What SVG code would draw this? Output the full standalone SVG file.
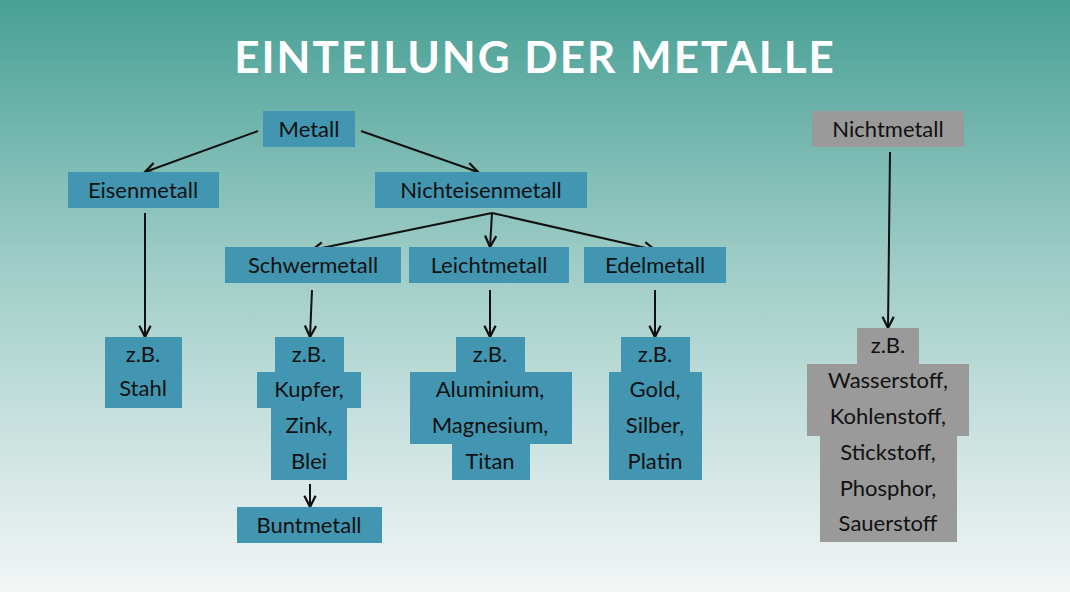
<svg xmlns="http://www.w3.org/2000/svg" width="1070" height="592" viewBox="0 0 1070 592">
<defs>
<linearGradient id="bg" x1="0" y1="0" x2="0" y2="1">
<stop offset="0" stop-color="#48a096"/><stop offset="0.45" stop-color="#9fcdc7"/><stop offset="1" stop-color="#f3f6f6"/>
</linearGradient>
<marker id="ah" viewBox="0 0 10 10" refX="9" refY="5" markerWidth="7" markerHeight="7" orient="auto"><path d="M1,1 L9,5 L1,9" fill="none" stroke="#111" stroke-width="1.6"/></marker>
<style>
.b{fill:#4296b1}.g{fill:#9a9a9a}
text{font-family:Lato,"Open Sans",sans-serif;font-size:22px;fill:#111;text-anchor:middle}
.c line{stroke:#111;stroke-width:2;marker-end:url(#ah)}
</style>
</defs>
<rect width="1070" height="592" fill="url(#bg)"/>
<text x="535" y="73" style="font-size:44px;font-weight:bold;fill:#fff;letter-spacing:2px">EINTEILUNG DER METALLE</text>
<g class="c">
<line x1="258" y1="131" x2="145" y2="172"/>
<line x1="361" y1="131" x2="478" y2="172"/>
<line x1="145" y1="213" x2="145" y2="337"/>
<line x1="492" y1="213" x2="312" y2="250"/>
<line x1="492" y1="213" x2="490" y2="247"/>
<line x1="492" y1="213" x2="655" y2="250"/>
<line x1="312" y1="290" x2="310" y2="337"/>
<line x1="490" y1="290" x2="490" y2="337"/>
<line x1="655" y1="290" x2="655" y2="337"/>
<line x1="310" y1="484" x2="310" y2="507"/>
<line x1="890" y1="152" x2="888" y2="328"/>
</g>
<g id="metall"><rect class="b" x="263" y="111" width="92" height="36"/><text x="309" y="137">Metall</text></g>
<g id="eisen"><rect class="b" x="68" y="172" width="151" height="36"/><text x="143" y="198">Eisenmetall</text></g>
<g id="nichteisen"><rect class="b" x="375" y="172" width="212" height="36"/><text x="481" y="198">Nichteisenmetall</text></g>
<g id="schwer"><rect class="b" x="225" y="247" width="176" height="36"/><text x="313" y="273">Schwermetall</text></g>
<g id="leicht"><rect class="b" x="409" y="247" width="160" height="36"/><text x="489" y="273">Leichtmetall</text></g>
<g id="edel"><rect class="b" x="584" y="247" width="142" height="36"/><text x="655" y="273">Edelmetall</text></g>
<g id="nichtmetall"><rect class="g" x="812" y="111" width="152" height="36"/><text x="888" y="137">Nichtmetall</text></g>
<g id="stahl"><rect class="b" x="105" y="337" width="77" height="71"/><text x="143" y="362">z.B.</text><text x="143" y="396">Stahl</text></g>
<g id="schwerbsp"><rect class="b" x="275" y="337" width="69" height="36"/><rect class="b" x="257" y="372" width="104" height="36"/><rect class="b" x="271" y="407" width="76" height="73"/>
<text x="309" y="362">z.B.</text><text x="309" y="397">Kupfer,</text><text x="309" y="433">Zink,</text><text x="309" y="469">Blei</text></g>
<g id="bunt"><rect class="b" x="237" y="507" width="145" height="36"/><text x="309" y="533">Buntmetall</text></g>
<g id="leichtbsp"><rect class="b" x="456" y="337" width="69" height="36"/><rect class="b" x="410" y="372" width="162" height="72"/><rect class="b" x="452" y="443" width="78" height="37"/>
<text x="490" y="362">z.B.</text><text x="490" y="397">Aluminium,</text><text x="490" y="433">Magnesium,</text><text x="490" y="469">Titan</text></g>
<g id="edelbsp"><rect class="b" x="621" y="337" width="69" height="36"/><rect class="b" x="609" y="372" width="93" height="108"/>
<text x="655" y="362">z.B.</text><text x="655" y="397">Gold,</text><text x="655" y="433">Silber,</text><text x="655" y="469">Platin</text></g>
<g id="nichtbsp"><rect class="g" x="857" y="328" width="62" height="36"/><rect class="g" x="807" y="364" width="162" height="72"/><rect class="g" x="820" y="435" width="137" height="107"/>
<text x="888" y="353">z.B.</text><text x="888" y="388">Wasserstoff,</text><text x="888" y="424">Kohlenstoff,</text><text x="888" y="460">Stickstoff,</text><text x="888" y="496">Phosphor,</text><text x="888" y="531">Sauerstoff</text></g>
</svg>
